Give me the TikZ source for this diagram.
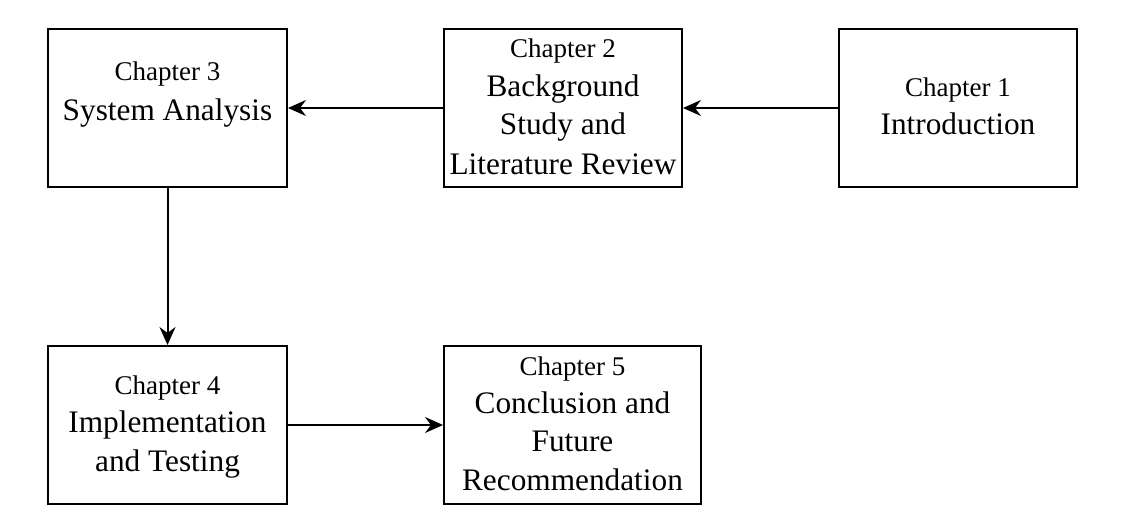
\documentclass[tikz,border=0pt]{standalone}
\usepackage{fontspec}
\setmainfont{Liberation Serif}
\usetikzlibrary{arrows.meta}
\begin{document}
\begin{tikzpicture}[x=1pt,y=-1pt,
  box/.style={draw, line width=2pt, inner sep=0pt, minimum height=158pt},
  small/.style={anchor=base, inner sep=0pt, font=\fontsize{27}{32}\selectfont},
  big/.style={anchor=base, inner sep=0pt, font=\fontsize{31.3}{38}\selectfont},
  arr/.style={line width=2pt, -{Stealth[length=18pt,width=16pt,inset=6pt]}}]
\useasboundingbox (0,0) rectangle (1138,521);
% boxes
\node[box, minimum width=239pt] (ch3) at (167.5,108) {};
\node[box, minimum width=238pt] (ch2) at (563,108) {};
\node[box, minimum width=238pt] (ch1) at (958,108) {};
\node[box, minimum width=239pt] (ch4) at (167.5,425) {};
\node[box, minimum width=257pt] (ch5) at (572.5,425) {};
% texts
\node[small] (t3a) at (167.5,80.7) {Chapter 3};
\node[big]   (t3b) at (167.5,121) {System Analysis};
\node[small] (t2a) at (563,57.7) {Chapter 2};
\node[big]   (t2b) at (563,96.7) {Background};
\node[big]   (t2c) at (563,134.3) {Study and};
\node[big]   (t2d) at (563,174.3) {Literature Review};
\node[small] (t1a) at (958,96.7) {Chapter 1};
\node[big]   (t1b) at (958,134.3) {Introduction};
\node[small] (t4a) at (167.5,394) {Chapter 4};
\node[big]   (t4b) at (167.5,432.7) {Implementation};
\node[big]   (t4c) at (167.5,471.7) {and Testing};
\node[small] (t5a) at (572.5,375) {Chapter 5};
\node[big]   (t5b) at (572.5,413.3) {Conclusion and};
\node[big]   (t5c) at (572.5,451) {Future};
\node[big]   (t5d) at (572.5,490) {Recommendation};
% connectors
\draw[arr] (ch1.west) -- (ch2.east);
\draw[arr] (ch2.west) -- (ch3.east);
\draw[arr] (ch3.south) -- (ch4.north);
\draw[arr] (ch4.east) -- (ch5.west);
\end{tikzpicture}
\end{document}
